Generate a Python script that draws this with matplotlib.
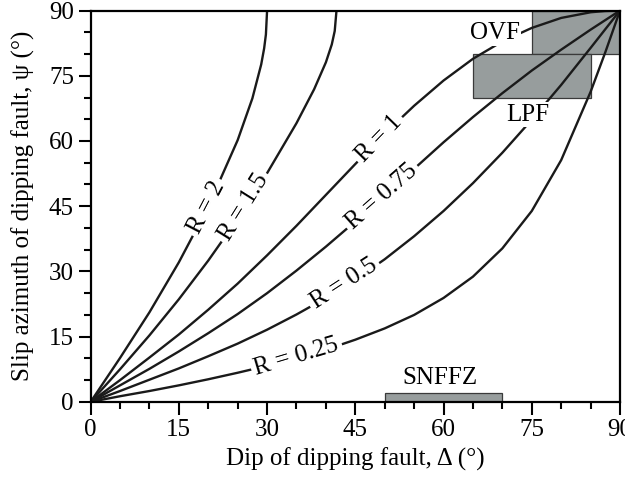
import matplotlib
matplotlib.use("Agg")
import matplotlib.pyplot as plt
from matplotlib.patches import Rectangle
from matplotlib.ticker import MultipleLocator

plt.rcParams['font.family'] = ['Liberation Serif', 'DejaVu Serif']

# dip of dipping fault (deg) and slip azimuth (deg) for each R
delta_lo = [0, 5, 10, 15, 20, 25, 30, 35, 40, 45, 50, 55, 60, 65, 70, 75, 80, 85, 87.5, 90]
psi_r1 = [0, 5.0, 10.2, 15.5, 21.2, 27.2, 33.7, 40.5, 47.6, 54.7, 61.7, 68.1, 73.9, 78.9, 82.9, 86.0, 88.3, 89.6, 89.9, 90]
psi_r075 = [0, 3.8, 7.6, 11.6, 15.8, 20.2, 25.0, 30.2, 35.7, 41.5, 47.5, 53.6, 59.7, 65.5, 71.0, 76.2, 81.0, 85.6, 87.8, 90]
psi_r05 = [0, 2.5, 5.1, 7.7, 10.5, 13.4, 16.6, 20.1, 23.9, 28.1, 32.8, 38.1, 43.9, 50.3, 57.3, 64.9, 72.9, 81.4, 85.7, 90]
psi_r025 = [0, 1.3, 2.5, 3.8, 5.2, 6.7, 8.3, 10.0, 12.0, 14.3, 16.9, 20.0, 23.9, 28.8, 35.3, 43.9, 55.6, 71.3, 80.4, 90]

delta_r15 = [0, 5, 10, 15, 20, 25, 30, 35, 38, 40, 41, 41.5, 41.8]
psi_r15 = [0, 7.5, 15.3, 23.6, 32.5, 42.1, 52.6, 64.1, 71.9, 78.1, 82.2, 85.3, 90]

delta_r2 = [0, 5, 10, 15, 20, 25, 27.5, 29, 29.5, 29.8, 30]
psi_r2 = [0, 10.1, 20.6, 32.1, 44.9, 60.2, 69.8, 77.6, 81.3, 84.5, 90]

# label text, position (delta, psi), screen angle
r_labels = ["R = 2", "R = 1.5", "R = 1", "R = 0.75", "R = 0.5", "R = 0.25"]
r_label_pos = [(19.7, 44.7), (26.1, 44.7), (49.0, 60.6), (49.5, 47.2), (43.0, 27.3), (35.0, 10.4)]
r_label_rot = [62.5, 58, 46, 41.5, 33, 16.5]

# fault zones: (delta0, psi0, width, height)
zones = ["OVF", "LPF", "SNFFZ"]
zone_boxes = [(75, 80, 15, 10), (65, 70, 20, 10), (50, 0, 20, 2)]
zone_text_pos = [(68.7, 84.8), (74.4, 66.0), (59.4, 5.4)]


def make_plot():
    fig = plt.figure(figsize=(6.25, 4.79), dpi=100)
    ax = fig.add_axes([0.145, 0.161, 0.847, 0.817])

    for (x0, y0, w, h) in zone_boxes:
        ax.add_patch(Rectangle((x0, y0), w, h, facecolor="#979d9d",
                               edgecolor="#3a3a3a", lw=0.9, zorder=1))

    for xs, ys in [(delta_r2, psi_r2), (delta_r15, psi_r15), (delta_lo, psi_r1),
                   (delta_lo, psi_r075), (delta_lo, psi_r05), (delta_lo, psi_r025)]:
        ax.plot(xs, ys, color="#1a1a1a", lw=1.7, zorder=2, solid_joinstyle="round")

    for lab, (x, y), rot in zip(r_labels, r_label_pos, r_label_rot):
        ax.text(x, y, lab, rotation=rot, rotation_mode="anchor", ha="center",
                va="center", fontsize=18, zorder=3,
                bbox=dict(facecolor="white", edgecolor="none", pad=2.5))

    for lab, (x, y) in zip(zones, zone_text_pos):
        ax.text(x, y, lab, ha="center", va="center", fontsize=18, zorder=3,
                bbox=dict(facecolor="white", edgecolor="none", pad=1))

    ax.set_xlim(0, 90)
    ax.set_ylim(0, 90)
    ax.xaxis.set_major_locator(MultipleLocator(15))
    ax.yaxis.set_major_locator(MultipleLocator(15))
    ax.xaxis.set_minor_locator(MultipleLocator(5))
    ax.yaxis.set_minor_locator(MultipleLocator(5))
    ax.tick_params(which="major", direction="out", length=9, width=1.5, labelsize=18, pad=3)
    ax.tick_params(which="minor", direction="out", length=5, width=1.5)
    for sp in ax.spines.values():
        sp.set_linewidth(1.6)

    ax.set_xlabel("Dip of dipping fault, Δ (°)", fontsize=18, labelpad=5)
    ax.set_ylabel("Slip azimuth of dipping fault, ψ (°)", fontsize=18, labelpad=10)

    fig.savefig("out.png", dpi=100)


if __name__ == "__main__":
    make_plot()
